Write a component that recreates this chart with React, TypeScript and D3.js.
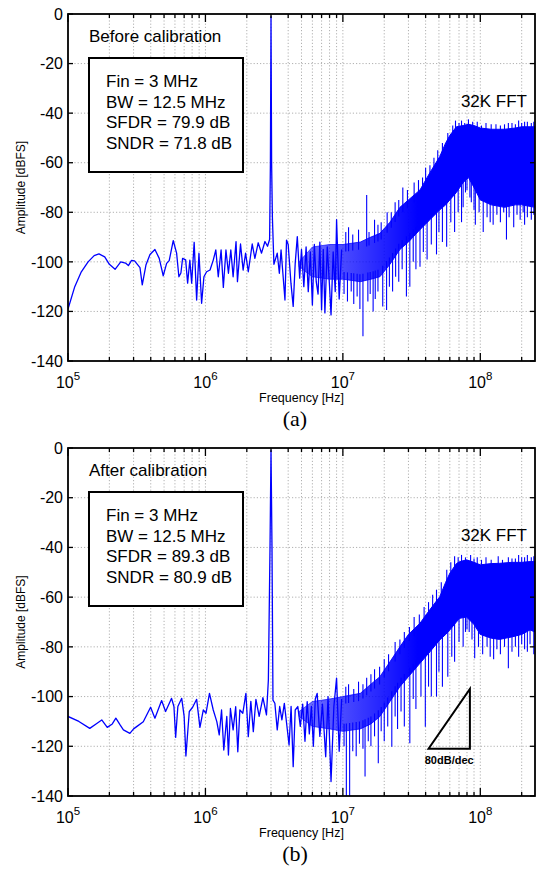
import React from 'react';
import * as d3 from 'd3';

const W = 537;
const H = 872;
const X_DOMAIN: [number, number] = [1e5, 2.5e8];
const Y_DOMAIN: [number, number] = [-140, 0];
const Y_TICKS = [0, -20, -40, -60, -80, -100, -120, -140];
const X_DECADES = [1e5, 1e6, 1e7, 1e8];
const X_DECADE_EXP = ['5', '6', '7', '8'];

// ---------- (a) Before calibration ----------
const beforeLineFreq = [1e5, 1.12e5, 1.25e5, 1.4e5, 1.55e5, 1.68e5, 1.85e5, 2.0e5, 2.2e5, 2.42e5, 2.62e5, 2.75e5, 2.9e5, 3.05e5, 3.34e5, 3.47e5, 3.69e5, 3.95e5, 4.29e5, 4.61e5, 4.93e5, 5.22e5, 5.45e5, 5.83e5, 6.17e5, 6.41e5, 6.63e5, 6.82e5, 7.18e5, 7.42e5, 7.7e5, 7.94e5, 8.28e5, 8.63e5, 8.97e5, 9.38e5, 9.75e5, 1.02e6, 1.08e6, 1.14e6, 1.19e6, 1.24e6, 1.3e6, 1.35e6, 1.41e6, 1.47e6, 1.53e6, 1.59e6, 1.67e6, 1.71e6, 1.8e6, 1.88e6, 1.96e6, 2.05e6, 2.19e6, 2.29e6, 2.42e6, 2.56e6, 2.71e6, 2.83e6, 2.93e6, 2.97e6, 3.0e6, 3.03e6, 3.07e6, 3.15e6, 3.33e6, 3.45e6, 3.55e6, 3.79e6, 3.89e6, 4.0e6, 4.19e6, 4.35e6, 4.5e6, 4.66e6, 4.85e6, 5.0e6, 5.2e6, 5.4e6, 5.6e6, 5.8e6, 6.0e6, 6.2e6, 6.4e6, 6.6e6, 6.8e6, 7.0e6, 7.2e6, 7.4e6, 7.7e6, 8.0e6, 8.2e6, 8.5e6, 8.8e6, 9.0e6, 9.4e6, 9.8e6];
const beforeLineDb = [-119, -110, -104, -100, -97.5, -96.8, -98, -101, -103, -100, -100.5, -101.5, -99.4, -99.6, -102.3, -109.3, -101.3, -97, -95, -98.6, -105.6, -100.6, -99.5, -91.4, -96.5, -106, -104.5, -98.6, -99.2, -108.6, -99.3, -108.6, -92.1, -115.4, -96.5, -116.7, -106, -104, -103.3, -99.3, -95.2, -106, -95.2, -110.3, -95.2, -104.6, -95.2, -106, -91.8, -108, -92.8, -103.3, -96.5, -104, -92.8, -98.6, -92.3, -96.5, -91.8, -93.7, -91, -60, -1, -60, -82, -101, -96.5, -104.6, -95.2, -115.4, -91.2, -93, -108.6, -118, -100.6, -89.8, -106.6, -95, -110, -94, -112, -96, -117.4, -93, -108, -113, -92, -119.4, -95, -120.6, -94, -110, -121.4, -96, -112, -83, -115, -95];
const beforeBandFreq = [4.8e6, 6e6, 8e6, 1e7, 1.34e7, 1.6e7, 1.86e7, 2.2e7, 2.6e7, 3.0e7, 3.64e7, 4.3e7, 5.07e7, 5.6e7, 6e7, 6.7e7, 7.5e7, 8.2e7, 9e7, 1.0e8, 1.2e8, 1.5e8, 1.8e8, 2.0e8, 2.5e8];
const beforeBandTop = [-100, -94, -93, -93, -92, -90, -88.5, -84, -78, -75, -71, -64, -57.5, -52, -49, -45.5, -45, -44.5, -45, -46, -46.5, -46.5, -46, -45.5, -45.5];
const beforeBandBot = [-102, -106, -107, -107, -108, -107, -106, -101, -95, -92, -87, -83, -79, -77, -75, -72, -68, -66, -70, -75, -77, -78, -77, -77, -78];
const beforeSpikeFreq = [1.02e7, 1.08e7, 1.15e7, 1.2e7, 1.27e7, 1.33e7, 1.4e7, 1.52e7, 1.58e7, 1.66e7, 1.72e7, 1.8e7, 1.95e7, 2.08e7, 2.18e7, 2.3e7, 2.42e7, 2.55e7, 2.7e7, 2.9e7, 3.07e7, 3.25e7, 3.4e7, 3.64e7, 3.85e7, 4.1e7, 4.4e7, 4.8e7, 5.0e7, 5.3e7, 5.69e7, 6.1e7, 6.5e7, 6.9e7, 7.3e7, 7.5e7, 7.8e7, 8.0e7, 8.4e7, 8.6e7, 9.0e7, 9.2e7, 9.8e7, 1.05e8, 1.12e8, 1.18e8, 1.24e8, 1.32e8, 1.4e8, 1.48e8, 1.55e8, 1.62e8, 1.75e8, 1.85e8, 1.95e8, 2.05e8, 2.1e8, 2.2e8, 2.35e8, 2.45e8,
  1.05e7, 1.1e7, 1.18e7, 1.3e7, 1.49e7, 1.55e7, 1.7e7, 1.8e7, 1.9e7, 2.1e7, 2.25e7, 2.4e7, 2.55e7, 2.73e7, 2.95e7, 3.3e7, 3.55e7, 3.8e7, 4e7, 4.3e7, 4.6e7, 4.9e7, 5.3e7, 5.8e7, 6.3e7, 6.6e7, 7e7, 7.3e7, 7.7e7, 8.2e7, 8.8e7, 9.5e7, 1.02e8, 1.1e8, 1.2e8, 1.3e8, 1.4e8, 1.5e8, 1.6e8, 1.7e8, 1.8e8, 1.9e8, 2.0e8, 2.1e8, 2.2e8, 2.35e8, 2.45e8];
const beforeSpikeDb = [-113, -116, -112, -117, -114, -119, -130, -116, -113, -120, -115, -112, -118, -119.4, -110, -112, -106, -108, -103, -114, -110, -100, -103, -102, -96, -99, -93, -97, -88, -92, -93.9, -84, -88, -80, -84, -78, -72, -71, -74, -76, -79, -85, -80, -88, -82, -84, -85, -81, -84, -80, -91, -82, -86, -81, -83, -80, -85, -82, -83, -81,
  -88, -86, -89, -87, -73, -88, -83, -85, -84, -80, -80, -76, -75, -70, -71, -68, -67, -66, -62, -61, -58, -55, -52, -48, -45, -43, -44, -43, -44, -42.5, -43.5, -43.5, -45, -44, -44.5, -44.5, -45, -44.5, -44, -44, -44.5, -43, -44, -43.5, -43.5, -44, -43.5];

// ---------- (b) After calibration ----------
const afterLineFreq = [1e5, 1.2e5, 1.44e5, 1.6e5, 1.76e5, 1.93e5, 2.1e5, 2.23e5, 2.4e5, 2.53e5, 2.82e5, 3.0e5, 3.16e5, 3.53e5, 3.99e5, 4.29e5, 4.8e5, 5.13e5, 5.67e5, 5.9e5, 6.07e5, 6.3e5, 6.72e5, 7.0e5, 7.21e5, 7.63e5, 8.07e5, 8.63e5, 9.12e5, 9.65e5, 1.01e6, 1.07e6, 1.14e6, 1.21e6, 1.26e6, 1.31e6, 1.36e6, 1.43e6, 1.47e6, 1.52e6, 1.59e6, 1.66e6, 1.72e6, 1.78e6, 1.87e6, 1.97e6, 2.05e6, 2.14e6, 2.23e6, 2.33e6, 2.46e6, 2.62e6, 2.78e6, 2.87e6, 2.95e6, 3.0e6, 3.05e6, 3.1e6, 3.2e6, 3.33e6, 3.47e6, 3.6e6, 3.75e6, 4.06e6, 4.2e6, 4.35e6, 4.5e6, 4.7e6, 4.9e6, 5.1e6, 5.3e6, 5.5e6, 5.7e6, 5.9e6, 6.1e6, 6.3e6, 6.5e6, 6.8e6, 7.1e6, 7.5e6, 7.8e6, 8.2e6, 8.6e6, 9.0e6, 9.4e6, 9.8e6];
const afterLineDb = [-108, -110, -112.8, -111, -109.4, -112.4, -111, -108.7, -111.5, -113.4, -114.8, -113, -112.1, -110.1, -104.3, -108.7, -101.6, -106, -100.7, -104, -116.4, -104, -100.7, -108, -123.9, -106, -104.3, -101.1, -112.4, -105.4, -106.7, -98.7, -105.4, -110.1, -115.4, -105.4, -121.5, -108, -123.5, -104.8, -113.4, -104.1, -122.2, -105.4, -106.7, -98.7, -116.1, -101.9, -114.1, -101.1, -108, -100.4, -107.4, -93.3, -40, -1, -40, -101.4, -102.7, -113.4, -104, -109.4, -102.7, -119.5, -104, -128.2, -105.4, -104, -112, -103, -118, -102, -115, -104, -120, -101, -98.7, -116, -103, -124.2, -100, -134.2, -104, -92.6, -122, -101];
const afterBandFreq = [4.8e6, 6e6, 8e6, 1e7, 1.34e7, 1.6e7, 1.86e7, 2.2e7, 2.6e7, 3.0e7, 3.64e7, 4.3e7, 5.07e7, 5.6e7, 6e7, 6.7e7, 7.1e7, 7.95e7, 9e7, 1.0e8, 1.2e8, 1.38e8, 1.7e8, 2.0e8, 2.3e8, 2.5e8];
const afterBandTop = [-106, -102, -101, -100, -98.7, -95, -92, -86, -80, -75, -70.5, -65, -59.8, -54, -50.4, -46.5, -45.7, -45, -46, -47, -46.5, -46.4, -46, -46, -45.7, -45.7];
const afterBandBot = [-108, -112, -113, -114, -113, -111, -108, -102, -96, -92, -86.6, -82, -77.2, -75, -73.2, -70, -68.5, -68, -71, -75, -76.5, -77, -76, -75, -73.2, -74];
const afterSpikeFreq = [1.02e7, 1.06e7, 1.12e7, 1.18e7, 1.25e7, 1.32e7, 1.4e7, 1.45e7, 1.53e7, 1.6e7, 1.7e7, 1.81e7, 1.9e7, 2.0e7, 2.12e7, 2.27e7, 2.4e7, 2.5e7, 2.65e7, 2.8e7, 3.07e7, 3.25e7, 3.4e7, 3.7e7, 3.98e7, 4.2e7, 4.4e7, 4.8e7, 5.0e7, 5.3e7, 5.8e7, 6.2e7, 6.5e7, 7.0e7, 7.5e7, 7.8e7, 8.0e7, 8.3e7, 8.7e7, 9.1e7, 9.7e7, 1.04e8, 1.12e8, 1.18e8, 1.25e8, 1.32e8, 1.4e8, 1.5e8, 1.6e8, 1.7e8, 1.8e8, 1.9e8, 2.0e8, 2.1e8, 2.2e8, 2.3e8, 2.45e8,
  1.05e7, 1.1e7, 1.2e7, 1.3e7, 1.4e7, 1.49e7, 1.6e7, 1.7e7, 1.85e7, 2e7, 2.15e7, 2.4e7, 2.6e7, 2.8e7, 3.05e7, 3.3e7, 3.6e7, 3.9e7, 4.2e7, 4.5e7, 4.8e7, 5.2e7, 5.7e7, 6.1e7, 6.5e7, 6.9e7, 7.3e7, 7.8e7, 8.5e7, 9e7, 9.5e7, 1.02e8, 1.1e8, 1.2e8, 1.35e8, 1.45e8, 1.6e8, 1.7e8, 1.8e8, 1.9e8, 2.0e8, 2.1e8, 2.2e8, 2.35e8, 2.45e8];
const afterSpikeDb = [-120, -145, -145, -122, -124, -119, -121, -132.2, -118, -120, -116, -126.8, -114, -118, -112, -120.2, -108, -113, -106, -112, -118.8, -101, -105, -100, -112.1, -96, -100, -100, -90, -96, -92, -84, -86, -78, -80, -74, -73, -74, -77, -84.6, -80, -83, -80, -84, -85, -81, -83, -80, -88.6, -82, -80, -84, -79, -81, -82, -79, -83,
  -96, -95, -97, -94, -95, -92.4, -91, -89, -88, -85, -83, -78, -77, -74, -72, -68, -67, -64, -62, -59, -57, -54, -49, -46, -43.5, -44, -43, -44, -43, -44.5, -44, -45, -44, -45, -43.5, -45, -44, -44.5, -44.5, -43, -44, -44, -43, -44, -43.5];

// 80 dB/dec slope marker
const triFreq = [4.2e7, 8.4e7];
const triBaseDb = -121;
const triSlope = 80;

const beforeStats = ['Fin = 3 MHz', 'BW = 12.5 MHz', 'SFDR = 79.9 dB', 'SNDR = 71.8 dB'];
const afterStats = ['Fin = 3 MHz', 'BW = 12.5 MHz', 'SFDR = 89.3 dB', 'SNDR = 80.9 dB'];

const FONT = '"Liberation Sans", Arial, Helvetica, sans-serif';
const BLUE = '#0000ff';
const LEFT = 68;
const RIGHT = 535;

type PanelProps = {
  id: string;
  top: number;
  bottom: number;
  lineF: number[];
  lineD: number[];
  bandF: number[];
  bandT: number[];
  bandB: number[];
  spikeF: number[];
  spikeD: number[];
  title: string;
  stats: string[];
  caption: string;
  showTri?: boolean;
};

function interp(f: number, fs: number[], vs: number[]) {
  const lf = Math.log10(f);
  for (let i = 0; i < fs.length - 1; i++) {
    const a = Math.log10(fs[i]);
    const b = Math.log10(fs[i + 1]);
    if (lf >= a && lf <= b) {
      const t = (lf - a) / (b - a);
      return vs[i] + t * (vs[i + 1] - vs[i]);
    }
  }
  return lf < Math.log10(fs[0]) ? vs[0] : vs[vs.length - 1];
}

function Panel(p: PanelProps) {
  const x = d3.scaleLog().domain(X_DOMAIN).range([LEFT, RIGHT]);
  const y = d3.scaleLinear().domain(Y_DOMAIN).range([p.bottom, p.top]);
  const ticks = x.ticks().filter((t) => t >= X_DOMAIN[0] && t <= X_DOMAIN[1]);
  const isDecade = (t: number) => Math.abs(Math.log10(t) - Math.round(Math.log10(t))) < 1e-9;

  const pts = p.lineF.map((f, i) => [f, p.lineD[i]] as [number, number]);
  const line = d3.line<[number, number]>().x((d) => x(d[0])).y((d) => y(d[1]));
  const band = p.bandF.map((f, i) => ({ f, t: p.bandT[i], b: p.bandB[i] }));
  const area = d3
    .area<{ f: number; t: number; b: number }>()
    .x((d) => x(d.f))
    .y0((d) => y(d.b))
    .y1((d) => y(d.t));

  const clipId = 'clip-' + p.id;
  const gradId = 'grad-' + p.id;
  const triTop = triBaseDb + triSlope * Math.log10(triFreq[1] / triFreq[0]);

  return (
    <g>
      <defs>
        <clipPath id={clipId}>
          <rect x={LEFT} y={p.top} width={RIGHT - LEFT} height={p.bottom - p.top} />
        </clipPath>
        <linearGradient id={gradId} gradientUnits="userSpaceOnUse" x1={x(5e6)} x2={x(3.5e7)} y1={0} y2={0}>
          <stop offset="0" stopColor={BLUE} stopOpacity={0.55} />
          <stop offset="1" stopColor={BLUE} stopOpacity={1} />
        </linearGradient>
      </defs>
      {/* grid */}
      {ticks
        .filter((t) => t > X_DOMAIN[0])
        .map((t, i) => (
          <line key={'gx' + i} x1={x(t)} x2={x(t)} y1={p.top} y2={p.bottom} stroke="#b0b0b0" strokeWidth={1} strokeDasharray="1.2,2" />
        ))}
      {Y_TICKS.filter((v) => v > -140 && v < 0).map((v) => (
        <line key={'gy' + v} x1={LEFT} x2={RIGHT} y1={y(v)} y2={y(v)} stroke="#b0b0b0" strokeWidth={1} strokeDasharray="1.2,2" />
      ))}
      {/* data */}
      <g clipPath={`url(#${clipId})`}>
        <path d={area(band) || ''} fill={`url(#${gradId})`} stroke={`url(#${gradId})`} strokeWidth={1} />
        {p.spikeF.map((f, i) => {
          const v = p.spikeD[i];
          const tp = interp(f, p.bandF, p.bandT);
          const bt = interp(f, p.bandF, p.bandB);
          const start = v < bt ? bt + 3 : tp - 3;
          return <line key={'s' + i} x1={x(f)} x2={x(f)} y1={y(start)} y2={y(v)} stroke={BLUE} strokeWidth={1.1} />;
        })}
        <path d={line(pts) || ''} fill="none" stroke={BLUE} strokeWidth={1.3} strokeLinejoin="round" />
      </g>
      {/* frame */}
      <rect x={LEFT} y={p.top} width={RIGHT - LEFT} height={p.bottom - p.top} fill="none" stroke="#000" strokeWidth={1.8} />
      {/* x ticks */}
      {ticks.map((t, i) => {
        const len = isDecade(t) ? 8 : 4;
        return (
          <g key={'xt' + i}>
            <line x1={x(t)} x2={x(t)} y1={p.bottom} y2={p.bottom - len} stroke="#000" strokeWidth={1.3} />
            <line x1={x(t)} x2={x(t)} y1={p.top} y2={p.top + len} stroke="#000" strokeWidth={1.3} />
          </g>
        );
      })}
      {X_DECADES.map((t, i) => (
        <text key={'xl' + i} x={x(t)} y={p.bottom + 27} textAnchor="middle" fontFamily={FONT} fontSize={16} fill="#000">
          10
          <tspan dy={-8} fontSize={11.5}>
            {X_DECADE_EXP[i]}
          </tspan>
        </text>
      ))}
      {/* y ticks */}
      {Y_TICKS.map((v) => (
        <g key={'yt' + v}>
          <line x1={LEFT} x2={LEFT + 5} y1={y(v)} y2={y(v)} stroke="#000" strokeWidth={1.3} />
          <line x1={RIGHT} x2={RIGHT - 5} y1={y(v)} y2={y(v)} stroke="#000" strokeWidth={1.3} />
          <text x={LEFT - 5} y={y(v)} dy="0.36em" textAnchor="end" fontFamily={FONT} fontSize={16} fill="#000">
            {v}
          </text>
        </g>
      ))}
      {/* axis labels */}
      <text x={(LEFT + RIGHT) / 2} y={p.bottom + 41} textAnchor="middle" fontFamily={FONT} fontSize={12.5} fill="#000">
        Frequency [Hz]
      </text>
      <text
        transform={`translate(24.5,${(p.top + p.bottom) / 2}) rotate(-90)`}
        textAnchor="middle"
        fontFamily={FONT}
        fontSize={12}
        fill="#000"
      >
        Amplitude [dBFS]
      </text>
      <text x={295} y={p.bottom + 65} textAnchor="middle" fontFamily='"Liberation Serif", "Times New Roman", serif' fontSize={22} fill="#000">
        {p.caption}
      </text>
      {/* annotations */}
      <text x={89} y={p.top + 27.7} fontFamily={FONT} fontSize={17} fill="#000">
        {p.title}
      </text>
      <rect x={89} y={p.top + 44} width={154} height={114} fill="#fff" stroke="#000" strokeWidth={2} />
      {p.stats.map((s, i) => (
        <text key={'st' + i} x={106} y={p.top + 73 + i * 20.5} fontFamily={FONT} fontSize={17} fill="#000">
          {s}
        </text>
      ))}
      <text x={527} y={p.top + 93} textAnchor="end" fontFamily={FONT} fontSize={17} fill="#000">
        32K FFT
      </text>
      {p.showTri && (
        <g>
          <path
            d={`M${x(triFreq[0])},${y(triBaseDb)}L${x(triFreq[1])},${y(triBaseDb)}L${x(triFreq[1])},${y(triTop)}Z`}
            fill="none"
            stroke="#000"
            strokeWidth={2}
            strokeLinejoin="miter"
          />
          <text
            x={x(Math.sqrt(triFreq[0] * triFreq[1]))}
            y={y(triBaseDb) + 15}
            textAnchor="middle"
            fontFamily={FONT}
            fontWeight="bold"
            fontSize={11}
            fill="#000"
          >
            80dB/dec
          </text>
        </g>
      )}
    </g>
  );
}

export default function App() {
  return (
    <svg width={W} height={H} style={{ position: 'absolute', left: 0, top: 0, background: '#fff' }}>
      <rect x={0} y={0} width={W} height={H} fill="#fff" />
      <Panel
        id="a"
        top={14}
        bottom={361}
        lineF={beforeLineFreq}
        lineD={beforeLineDb}
        bandF={beforeBandFreq}
        bandT={beforeBandTop}
        bandB={beforeBandBot}
        spikeF={beforeSpikeFreq}
        spikeD={beforeSpikeDb}
        title="Before calibration"
        stats={beforeStats}
        caption="(a)"
      />
      <Panel
        id="b"
        top={448}
        bottom={796}
        lineF={afterLineFreq}
        lineD={afterLineDb}
        bandF={afterBandFreq}
        bandT={afterBandTop}
        bandB={afterBandBot}
        spikeF={afterSpikeFreq}
        spikeD={afterSpikeDb}
        title="After calibration"
        stats={afterStats}
        caption="(b)"
        showTri
      />
    </svg>
  );
}
